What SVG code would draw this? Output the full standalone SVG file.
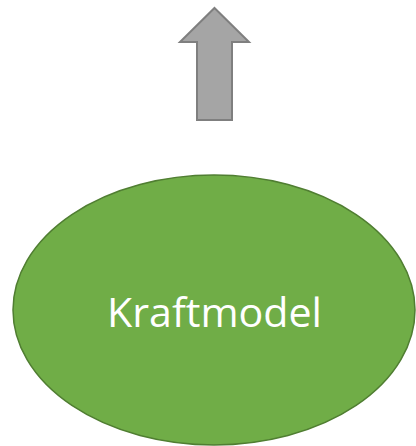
<svg xmlns="http://www.w3.org/2000/svg" width="416" height="446" viewBox="0 0 416 446">
<style>
.n{fill:#70AD47;stroke:#507E32;stroke-width:1.5}
.a{fill:#A5A5A5;stroke:#7F7F7F;stroke-width:2}
.t{font-family:"Open Sans","Noto Sans",sans-serif;font-size:40px;fill:#FFFFFF;text-anchor:middle}
</style>
<rect width="416" height="446" fill="#FFFFFF"/>
<g id="connectors">
<polygon class="a" points="214.5,8 249,42 232,42 232,120 197,120 197,42 180,42"/>
</g>
<g id="kraftmodel">
<ellipse class="n" cx="214" cy="310" rx="201" ry="135"/>
<text class="t" x="214.5" y="327" textLength="215" lengthAdjust="spacingAndGlyphs">Kraftmodel</text>
</g>
</svg>
